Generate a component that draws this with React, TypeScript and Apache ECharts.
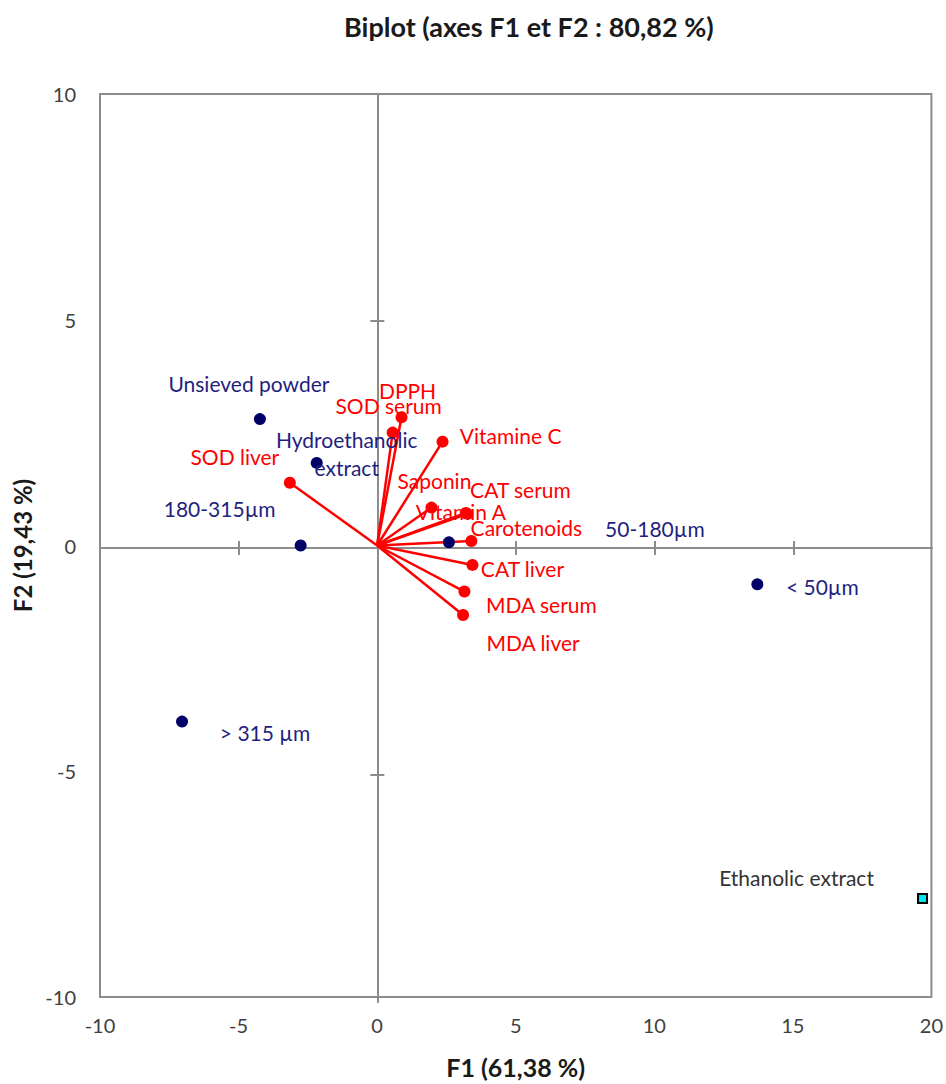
import React, { useEffect, useRef } from "react";
import * as echarts from "echarts";

// Observations (active)
const obsNames = ["Unsieved powder", "Hydroethanolic\nextract", "180-315µm", "50-180µm", "< 50µm", "> 315 µm"];
const obsF1 = [-4.23, -2.18, -2.76, 2.59, 13.72, -7.04];
const obsF2 = [2.80, 1.83, 0.0, 0.07, -0.86, -3.90];

// Supplementary observation
const suppNames = ["Ethanolic extract"];
const suppF1 = [19.68];
const suppF2 = [-7.82];

// Variables
const varNames = ["DPPH", "SOD serum", "Vitamine C", "SOD liver", "Saponin", "CAT serum", "Vitamin A", "Carotenoids", "CAT liver", "MDA serum", "MDA liver"];
const varF1 = [0.88, 0.56, 2.36, -3.15, 1.96, 3.26, 3.20, 3.40, 3.44, 3.15, 3.10];
const varF2 = [2.84, 2.50, 2.30, 1.39, 0.84, 0.70, 0.72, 0.10, -0.43, -1.02, -1.54];

// Axis ticks
const xTicks = { min: -10, max: 20, interval: 5 };
const yTicks = { min: -10, max: 10, interval: 5 };
const zeroLineTicksX = [-5, 5, 10, 15];
const zeroLineTicksY = [-5, 5];

// Label placement (layout, pixel offsets from the mark centre)
const obsLabelOffsets: Record<string, [number, number]> = {
  "Unsieved powder": [-11, -36],
  "Hydroethanolic\nextract": [30, -9],
  "180-315µm": [-81, -37],
  "50-180µm": [206, -14],
  "< 50µm": [65, 2],
  "> 315 µm": [83, 11],
};
const suppLabelOffsets: Record<string, [number, number]> = {
  "Ethanolic extract": [-126, -21],
};
const varLabelOffsets: Record<string, [number, number]> = {
  DPPH: [6, -27],
  "SOD serum": [-4, -27],
  "Vitamine C": [68, -6],
  "SOD liver": [-55, -26],
  Saponin: [3, -27],
  "CAT serum": [53, -24],
  "Vitamin A": [-5, -1],
  Carotenoids: [55, -13],
  "CAT liver": [50, 4],
  "MDA serum": [77, 13],
  "MDA liver": [70, 27],
};

const FONT = "Lato, 'Noto Sans', sans-serif";
const AXIS_GRAY = "#8c8c8c";
const NAVY = "#000066";
const NAVY_TEXT = "#1f1f80";
const RED = "#ff0000";

export default function App() {
  const ref = useRef<HTMLDivElement>(null);
  useEffect(() => {
    if (!ref.current) return;
    const chart = echarts.init(ref.current, undefined, { renderer: "svg" });
    const gridRect = { left: 100, top: 94, width: 832, height: 908 };

    const labelStyle = (offset: [number, number], color: string) => ({
      show: true,
      formatter: "{b}",
      position: "inside" as const,
      offset,
      color,
      fontFamily: FONT,
      fontSize: 21,
      lineHeight: 28,
      align: "center" as const,
      verticalAlign: "middle" as const,
    });

    const obsData = obsNames.map((n, i) => ({
      name: n,
      value: [obsF1[i], obsF2[i]],
      label: labelStyle(obsLabelOffsets[n], NAVY_TEXT),
    }));
    const suppData = suppNames.map((n, i) => ({
      name: n,
      value: [suppF1[i], suppF2[i]],
      label: labelStyle(suppLabelOffsets[n], "#333333"),
    }));
    const varData = varNames.map((n, i) => ({
      name: n,
      value: [varF1[i], varF2[i]],
      label: labelStyle(varLabelOffsets[n], RED),
    }));
    const rayData = varNames.map((n, i) => ({
      name: n,
      coords: [
        [0, 0],
        [varF1[i], varF2[i]],
      ],
    }));

    const zeroX = (position: "bottom" | "top") => ({
      type: "value" as const,
      gridIndex: 1,
      position,
      ...xTicks,
      axisLine: { show: true, onZero: true, lineStyle: { color: AXIS_GRAY, width: 2 } },
      axisTick: { show: true, length: 7, customValues: zeroLineTicksX, lineStyle: { color: AXIS_GRAY, width: 2 } },
      axisLabel: { show: false },
      splitLine: { show: false },
    });
    const zeroY = (position: "left" | "right") => ({
      type: "value" as const,
      gridIndex: 1,
      position,
      ...yTicks,
      axisLine: { show: true, onZero: true, lineStyle: { color: AXIS_GRAY, width: 2 } },
      axisTick: { show: true, length: 7, customValues: zeroLineTicksY, lineStyle: { color: AXIS_GRAY, width: 2 } },
      axisLabel: { show: false },
      splitLine: { show: false },
    });

    chart.setOption({
      animation: false,
      backgroundColor: "#ffffff",
      title: {
        text: "Biplot (axes F1 et F2 : 80,82 %)",
        left: 339,
        top: 8,
        textStyle: { fontFamily: FONT, fontSize: 27, fontWeight: "bold", color: "#1a1a1a" },
      },
      grid: [
        { ...gridRect, show: true, borderColor: AXIS_GRAY, borderWidth: 2, backgroundColor: "transparent" },
        { ...gridRect, show: false },
      ],
      xAxis: [
        {
          type: "value",
          gridIndex: 0,
          position: "bottom",
          ...xTicks,
          name: "F1 (61,38 %)",
          nameLocation: "middle",
          nameGap: 57,
          nameTextStyle: { fontFamily: FONT, fontSize: 25, fontWeight: "bold", color: "#1a1a1a" },
          axisLine: { show: false, onZero: false },
          axisTick: { show: false },
          axisLabel: { fontFamily: FONT, fontSize: 20, color: "#404040", margin: 18 },
          splitLine: { show: false },
        },
        zeroX("bottom"),
        zeroX("top"),
      ],
      yAxis: [
        {
          type: "value",
          gridIndex: 0,
          position: "left",
          ...yTicks,
          name: "F2 (19,43 %)",
          nameLocation: "middle",
          nameGap: 66,
          nameRotate: 90,
          nameTextStyle: { fontFamily: FONT, fontSize: 24, fontWeight: "bold", color: "#1a1a1a" },
          axisLine: { show: false, onZero: false },
          axisTick: { show: false },
          axisLabel: { fontFamily: FONT, fontSize: 20, color: "#404040", margin: 24 },
          splitLine: { show: false },
        },
        zeroY("left"),
        zeroY("right"),
      ],
      series: [
        {
          type: "lines",
          coordinateSystem: "cartesian2d",
          xAxisIndex: 0,
          yAxisIndex: 0,
          data: rayData,
          lineStyle: { color: RED, width: 2.5, opacity: 1 },
          silent: true,
          z: 3,
        },
        {
          type: "scatter",
          name: "Variables",
          xAxisIndex: 0,
          yAxisIndex: 0,
          symbol: "circle",
          symbolSize: 12,
          itemStyle: { color: RED, opacity: 1 },
          data: varData,
          z: 4,
        },
        {
          type: "scatter",
          name: "Observations",
          xAxisIndex: 0,
          yAxisIndex: 0,
          symbol: "circle",
          symbolSize: 12,
          itemStyle: { color: NAVY, opacity: 1 },
          data: obsData,
          z: 5,
        },
        {
          type: "scatter",
          name: "Supplementary",
          xAxisIndex: 0,
          yAxisIndex: 0,
          symbol: "rect",
          symbolSize: 9,
          itemStyle: { color: "#00e5ee", borderColor: "#000000", borderWidth: 2, opacity: 1 },
          data: suppData,
          z: 5,
        },
      ],
    });
    return () => chart.dispose();
  }, []);

  return (
    <div
      ref={ref}
      style={{ position: "absolute", left: 0, top: 0, width: 946, height: 1084, background: "#fff" }}
    />
  );
}
